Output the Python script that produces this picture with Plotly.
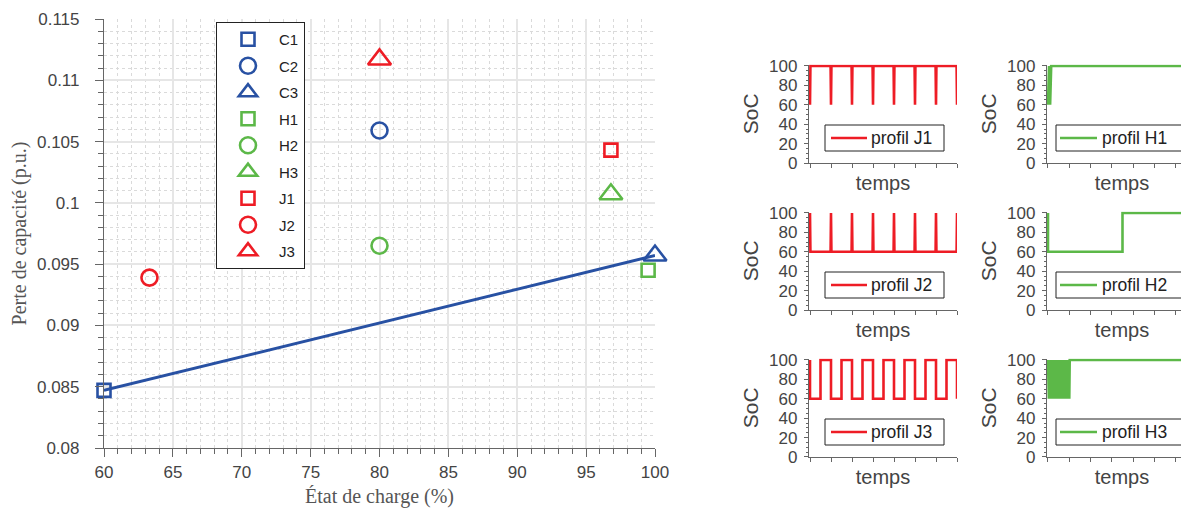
import plotly.graph_objects as go

# ---------------- data ----------------
names = ["C1", "C2", "C3", "H1", "H2", "H3", "J1", "J2", "J3"]
soc_pct = [60, 80, 100, 99.5, 80, 96.8, 96.8, 63.3, 80]
loss_pu = [0.0847, 0.1059, 0.0957, 0.0945, 0.0965, 0.1007, 0.1043, 0.0939, 0.1117]
symbols = ["square-open", "circle-open", "triangle-up-open"] * 3
groups = ["C", "C", "C", "H", "H", "H", "J", "J", "J"]

trend_x = [60, 100]
trend_y = [0.0847, 0.0957]

prof_J1_t = [0, 0.02, 0.98, 1.0, 1.02, 1.98, 2.0, 2.02, 2.98, 3.0, 3.02, 3.98, 4.0, 4.02,
             4.98, 5.0, 5.02, 5.98, 6.0, 6.02, 6.98, 7.0]
prof_J1_soc = [60, 100, 100, 60, 100, 100, 60, 100, 100, 60, 100, 100, 60, 100,
               100, 60, 100, 100, 60, 100, 100, 60]
prof_J2_t = prof_J1_t
prof_J2_soc = [100, 60, 60, 100, 60, 60, 100, 60, 60, 100, 60, 60, 100, 60,
               60, 100, 60, 60, 100, 60, 60, 100]
prof_J3_t = [0, 0, 0.5, 0.5, 1, 1, 1.5, 1.5, 2, 2, 2.5, 2.5, 3, 3, 3.5, 3.5, 4, 4,
             4.5, 4.5, 5, 5, 5.5, 5.5, 6, 6, 6.5, 6.5, 7, 7]
prof_J3_soc = [100, 60, 60, 100, 100, 60, 60, 100, 100, 60, 60, 100, 100, 60, 60, 100,
               100, 60, 60, 100, 100, 60, 60, 100, 100, 60, 60, 100, 100, 60]
prof_H1_t = [0, 0.05, 0.1, 0.15, 7]
prof_H1_soc = [60, 100, 60, 100, 100]
prof_H2_t = [0, 0, 3.5, 3.5, 7]
prof_H2_soc = [100, 60, 60, 100, 100]
prof_H3_t = [0, 0.04, 0.08, 0.12, 0.16, 0.2, 0.24, 0.28, 0.32, 0.36, 0.4, 0.44, 0.48,
             0.52, 0.56, 0.6, 0.64, 0.68, 0.72, 0.76, 0.8, 0.84, 0.88, 0.92, 0.96, 1.0,
             1.02, 7]
prof_H3_soc = [100, 60, 100, 60, 100, 60, 100, 60, 100, 60, 100, 60, 100,
               60, 100, 60, 100, 60, 100, 60, 100, 60, 100, 60, 100, 60,
               100, 100]

BLUE = "#2851a3"
GREEN = "#5cb848"
RED = "#ee1c25"
colors = {"C": BLUE, "H": GREEN, "J": RED}
sizes = {"square-open": 13, "circle-open": 16, "triangle-up-open": 20}

W, H = 1189, 510
OFF = 8  # page body margin
def px_x(p):
    return (p - OFF) / W
def px_y(p):
    return (H + OFF - p) / H

fig = go.Figure()

fig.add_trace(go.Scatter(x=trend_x, y=trend_y, mode="lines", line=dict(color=BLUE, width=3),
                         showlegend=False, hoverinfo="skip", cliponaxis=False))
for n, xv, yv, s, g in zip(names, soc_pct, loss_pu, symbols, groups):
    fig.add_trace(go.Scatter(
        x=[xv], y=[yv], mode="markers", name=n, legendgroup=n, cliponaxis=False,
        marker=dict(symbol=s, size=sizes[s], color=colors[g], line=dict(width=2.6, color=colors[g])),
    ))

# name, t, soc, color, axis index, column, row
profiles = [
    ("profil J1", prof_J1_t, prof_J1_soc, RED, 2, 0, 0),
    ("profil H1", prof_H1_t, prof_H1_soc, GREEN, 3, 1, 0),
    ("profil J2", prof_J2_t, prof_J2_soc, RED, 4, 0, 1),
    ("profil H2", prof_H2_t, prof_H2_soc, GREEN, 5, 1, 1),
    ("profil J3", prof_J3_t, prof_J3_soc, RED, 6, 0, 2),
    ("profil H3", prof_H3_t, prof_H3_soc, GREEN, 7, 1, 2),
]
for name, t, s, c, k, ci, ri in profiles:
    fig.add_trace(go.Scatter(x=t, y=s, mode="lines", name=name, line=dict(color=c, width=2.6),
                             xaxis=f"x{k}", yaxis=f"y{k}", showlegend=False))

TICKC = "#444444"
AXC = "#666666"
SANS = "Liberation Sans, Arial, sans-serif"
SERIF = "Liberation Serif, DejaVu Serif, serif"
MINORC = "#dadada"

layout = dict(
    width=W, height=H, margin=dict(l=0, r=0, t=0, b=0),
    paper_bgcolor="white", plot_bgcolor="white",
    font=dict(family=SANS, color=TICKC),
    xaxis=dict(domain=[px_x(104), px_x(655)], range=[60, 100], dtick=5, tick0=60, automargin=False,
               showgrid=True, gridcolor="#e6e6e6", gridwidth=1.5, zeroline=False,
               showline=True, linecolor=AXC, linewidth=1.2, ticks="outside", ticklen=8,
               tickcolor=AXC, tickfont=dict(size=17, color=TICKC),
               minor=dict(dtick=1, showgrid=True, gridcolor=MINORC, griddash="dot",
                          gridwidth=1, ticks="outside", ticklen=5, tickcolor=AXC),
               title=dict(text="État de charge (%)", font=dict(family=SERIF, size=20, color="#555"),
                          standoff=8)),
    yaxis=dict(domain=[px_y(448), px_y(19)], range=[0.08, 0.115], dtick=0.005, tick0=0.08,
               automargin=False, ticklabelstandoff=12,
               showgrid=True, gridcolor="#e6e6e6", gridwidth=1.5, zeroline=False,
               showline=True, linecolor=AXC, linewidth=1.2, ticks="outside", ticklen=8,
               tickcolor=AXC, tickfont=dict(size=17, color=TICKC), tickformat="~g",
               minor=dict(dtick=0.001, showgrid=True, gridcolor=MINORC, griddash="dot",
                          gridwidth=1, ticks="outside", ticklen=5, tickcolor=AXC),
               title=dict(text="Perte de capacité (p.u.)", font=dict(family=SERIF, size=20, color="#555"),
                          standoff=4)),
    legend=dict(x=px_x(216), y=px_y(22), xanchor="left", yanchor="top",
                bordercolor="#222", borderwidth=1, bgcolor="white",
                font=dict(size=15, color="#222"), tracegroupgap=4, itemwidth=52),
)

# pixel geometry of the small panels (page pixels)
col_px = [(810, 957), (1048, 1197)]                # pixel of t=0, t=7
row_px = [(66, 163), (213, 310), (360, 457)]       # pixel of SoC=100, SoC=0
leg_box = [(825, 944, 831, 867, 869), (1056, 1183, 1060, 1097, 1100)]  # box l, r, line l, r, text l

shapes = []
annotations = []
for name, t, s, c, k, ci, ri in profiles:
    x0, x1 = col_px[ci]
    y100, y0 = row_px[ri]
    ppu = (y0 - y100) / 100.0
    ytop = y0 - ppu * 101.5
    pxu = (x1 - x0) / 7.0
    xl = x0 - 0.05 * pxu
    layout[f"xaxis{k}"] = dict(
        domain=[px_x(xl), min(1.0, px_x(x1))], range=[-0.05, 7], anchor=f"y{k}", dtick=1, tick0=0,
        automargin=False,
        showticklabels=False, showgrid=False, zeroline=False, showline=True, linecolor=AXC,
        linewidth=1.2, ticks="outside", ticklen=4, tickcolor=AXC,
        title=dict(text="temps", font=dict(size=20, color="#444"), standoff=8))
    layout[f"yaxis{k}"] = dict(
        domain=[px_y(y0), px_y(ytop)], range=[0, 101.5], anchor=f"x{k}", dtick=20, tick0=0,
        automargin=False, ticklabelstandoff=3,
        showgrid=False, zeroline=False, showline=True, linecolor=AXC, linewidth=1.2,
        ticks="outside", ticklen=4, tickcolor=AXC, tickfont=dict(size=17, color=TICKC),
        minor=dict(dtick=5, ticks="outside", ticklen=2, tickcolor=AXC),
        title=dict(text="SoC", font=dict(size=21, color="#444"), standoff=4))
    # legend box for the panel
    bl, br, ll, lr, tl = leg_box[ci]
    bt = y100 + 59
    bb = bt + 26
    ym = (bt + bb) / 2
    shapes.append(dict(type="rect", xref="paper", yref="paper",
                       x0=px_x(bl), x1=px_x(br), y0=px_y(bb), y1=px_y(bt),
                       line=dict(color="#222", width=1), fillcolor="white", layer="above"))
    shapes.append(dict(type="line", xref="paper", yref="paper",
                       x0=px_x(ll), x1=px_x(lr), y0=px_y(ym), y1=px_y(ym),
                       line=dict(color=c, width=2.6), layer="above"))
    annotations.append(dict(text=name, xref="paper", yref="paper", x=px_x(tl), y=px_y(ym),
                            xanchor="left", yanchor="middle", showarrow=False,
                            font=dict(size=17.5, color="#222")))

layout["shapes"] = shapes
layout["annotations"] = annotations
fig.update_layout(**layout)
fig.write_html("out.html")
